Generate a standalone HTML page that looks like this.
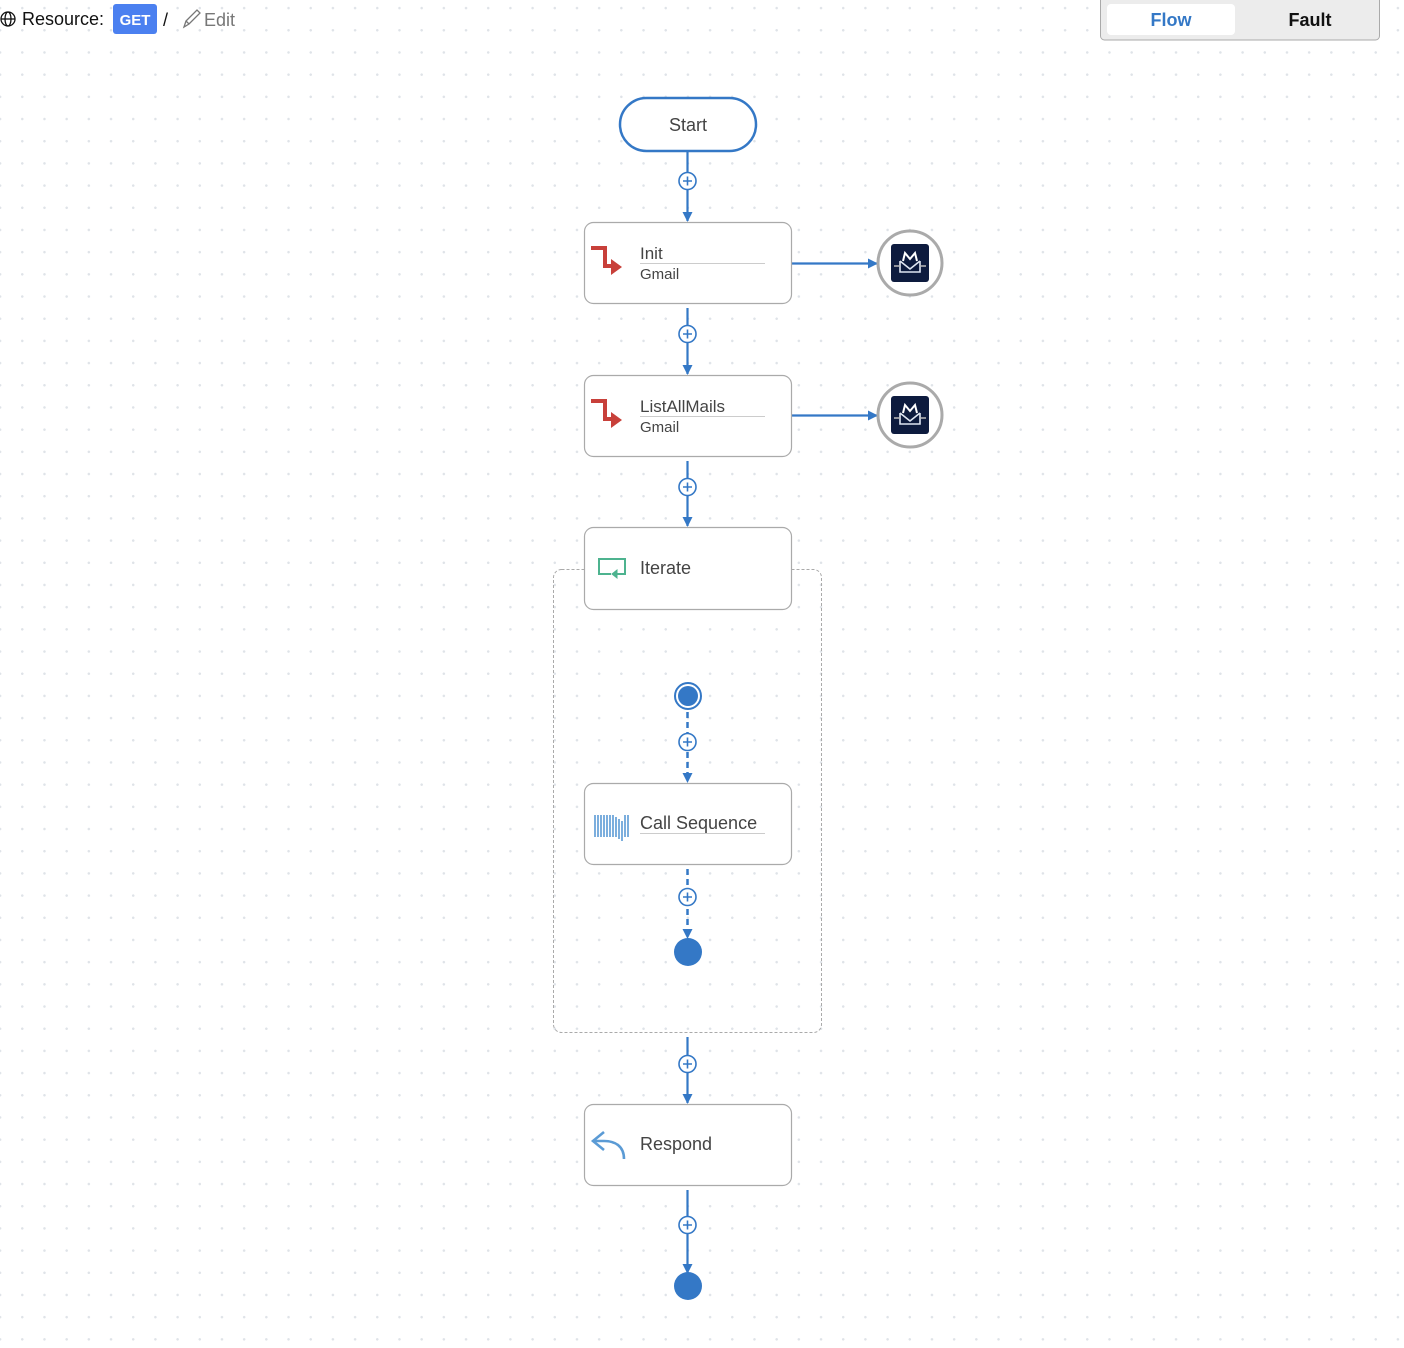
<!DOCTYPE html>
<html><head><meta charset="utf-8">
<style>
html,body{margin:0;padding:0;width:1404px;height:1348px;overflow:hidden;background:#fff;
background-image:radial-gradient(circle,#dfe3e8 1.1px,transparent 1.4px);background-size:22.2px 22.2px;background-position:-11px -3px;}
svg{position:absolute;left:0;top:0}
text{font-family:"Liberation Sans",sans-serif}
</style></head><body>
<svg width="1404" height="1348" viewBox="0 0 1404 1348">
<defs>
<marker id="ar" markerWidth="10" markerHeight="10" refX="9" refY="5" orient="auto" markerUnits="userSpaceOnUse">
<path d="M0,0 L10,5 L0,10 z" fill="#3478c6"/></marker>
<g id="plus"><circle r="8.5" fill="#fff" stroke="#3478c6" stroke-width="1.6"/><path d="M-4.5,0H4.5M0,-4.5V4.5" stroke="#3478c6" stroke-width="1.6"/></g>
<g id="mail">
<circle r="32" fill="#fff" stroke="#aaa" stroke-width="3"/>
<rect x="-19" y="-19" width="38" height="38" rx="3" fill="#0d1b3e"/>
<path d="M-10,-2 L0,6 L10,-2 M-10,-2 V9 H10 V-2" fill="none" stroke="#dfe6f2" stroke-width="1.6"/>
<path d="M-7,-2 L-5,-10 L0,-4 L5,-10 L7,-2" fill="none" stroke="#fff" stroke-width="2"/>
<path d="M-16,3H-10M10,3H16" stroke="#bbb" stroke-width="1.5"/>
</g>
</defs>

<!-- header -->
<g fill="none" stroke="#111" stroke-width="1.3">
<circle cx="8" cy="19" r="7"/><ellipse cx="8" cy="19" rx="3" ry="7"/><path d="M1,19H15"/>
</g>
<text x="22" y="25" font-size="18" fill="#111">Resource:</text>
<rect x="113" y="4" width="44" height="30" rx="3" fill="#4b80f0"/>
<text x="135" y="25" font-size="15" fill="#fff" text-anchor="middle" font-weight="bold">GET</text>
<text x="163" y="26" font-size="18" fill="#111">/</text>
<path d="M184,27 L186,21 L197,10 L200,13 L189,24 Z M186,21 L189,24" fill="none" stroke="#777" stroke-width="1.3"/>
<text x="204" y="26" font-size="18" fill="#777">Edit</text>

<rect x="1100.5" y="-5" width="279" height="45" rx="4" fill="#ececec" stroke="#aaa"/>
<rect x="1107" y="4" width="128" height="31" rx="4" fill="#fff"/>
<text x="1171" y="26" font-size="18" font-weight="bold" fill="#3478c6" text-anchor="middle">Flow</text>
<text x="1310" y="26" font-size="18" font-weight="bold" fill="#111" text-anchor="middle">Fault</text>

<!-- iterate container -->
<rect x="553.5" y="569.5" width="268" height="463" rx="8" fill="none" stroke="#aaa" stroke-dasharray="3,2"/>

<!-- connectors solid -->
<g stroke="#3478c6" stroke-width="2.2" fill="none" marker-end="url(#ar)">
<path d="M687.5,152V221"/>
<path d="M687.5,308V374"/>
<path d="M687.5,461V526"/>
<path d="M687.5,1037V1103"/>
<path d="M687.5,1190V1273"/>
<path d="M792,263.5H877"/>
<path d="M792,415.5H877"/>
</g>
<g stroke="#3478c6" stroke-width="2.5" fill="none" stroke-dasharray="6,4" marker-end="url(#ar)">
<path d="M687.5,712V782"/>
<path d="M687.5,869V938"/>
</g>
<use href="#plus" x="687.5" y="181"/>
<use href="#plus" x="687.5" y="334"/>
<use href="#plus" x="687.5" y="487"/>
<use href="#plus" x="687.5" y="742"/>
<use href="#plus" x="687.5" y="897"/>
<use href="#plus" x="687.5" y="1064"/>
<use href="#plus" x="687.5" y="1225"/>

<use href="#mail" x="910" y="263"/>
<use href="#mail" x="910" y="415"/>

<!-- start -->
<rect x="620" y="98" width="136" height="53" rx="26.5" fill="#fff" stroke="#3478c6" stroke-width="2.5"/>
<text x="688" y="131" font-size="18" fill="#444" text-anchor="middle">Start</text>

<!-- nodes -->
<g fill="#fff" stroke="#aaa" stroke-width="1.2">
<rect x="584.5" y="222.5" width="207" height="81" rx="9"/>
<rect x="584.5" y="375.5" width="207" height="81" rx="9"/>
<rect x="584.5" y="527.5" width="207" height="82" rx="9"/>
<rect x="584.5" y="783.5" width="207" height="81" rx="9"/>
<rect x="584.5" y="1104.5" width="207" height="81" rx="9"/>
</g>

<!-- Init -->
<path d="M591,248H605V266H613" fill="none" stroke="#c8403a" stroke-width="4"/>
<path d="M611,259L622,267L611,275Z" fill="#c8403a"/>
<text x="640" y="259" font-size="17" fill="#444">Init</text>
<path d="M640,263.5H765" stroke="#ccc"/>
<text x="640" y="279" font-size="15" fill="#444">Gmail</text>

<path d="M591,401H605V419H613" fill="none" stroke="#c8403a" stroke-width="4"/>
<path d="M611,412L622,420L611,428Z" fill="#c8403a"/>
<text x="640" y="412" font-size="17" fill="#444">ListAllMails</text>
<path d="M640,416.5H765" stroke="#ccc"/>
<text x="640" y="432" font-size="15" fill="#444">Gmail</text>

<!-- Iterate -->
<path d="M611,574H599V559H625V574H616" fill="none" stroke="#4db38f" stroke-width="2"/>
<path d="M617,570L612,574L617,578Z" fill="#4db38f" stroke="#4db38f"/>
<text x="640" y="574" font-size="18" fill="#444">Iterate</text>

<circle cx="688" cy="696" r="13" fill="#fff" stroke="#3478c6" stroke-width="2"/>
<circle cx="688" cy="696" r="10" fill="#3478c6"/>

<!-- Call sequence -->
<g stroke="#5b9bd5" stroke-width="1.6">
<path d="M595,815V837M598,815V837M601,815V837M604,815V837M607,815V837M610,815V837M613,815V837M616,817V837M619,819V839M622,821V841M625,815V837M628,815V837"/>
</g>
<text x="640" y="829" font-size="18" fill="#444">Call Sequence</text>
<path d="M640,833.5H765" stroke="#ccc"/>
<circle cx="688" cy="952" r="14" fill="#3478c6"/>

<!-- Respond -->
<path d="M624,1159 C624,1146 615,1141 604,1141 H594" fill="none" stroke="#5b9bd5" stroke-width="2.6"/>
<path d="M604,1132 L593,1141 L604,1150" fill="none" stroke="#5b9bd5" stroke-width="2.6"/>
<text x="640" y="1150" font-size="18" fill="#444">Respond</text>
<circle cx="688" cy="1286" r="14" fill="#3478c6"/>
</svg>
</body></html>
